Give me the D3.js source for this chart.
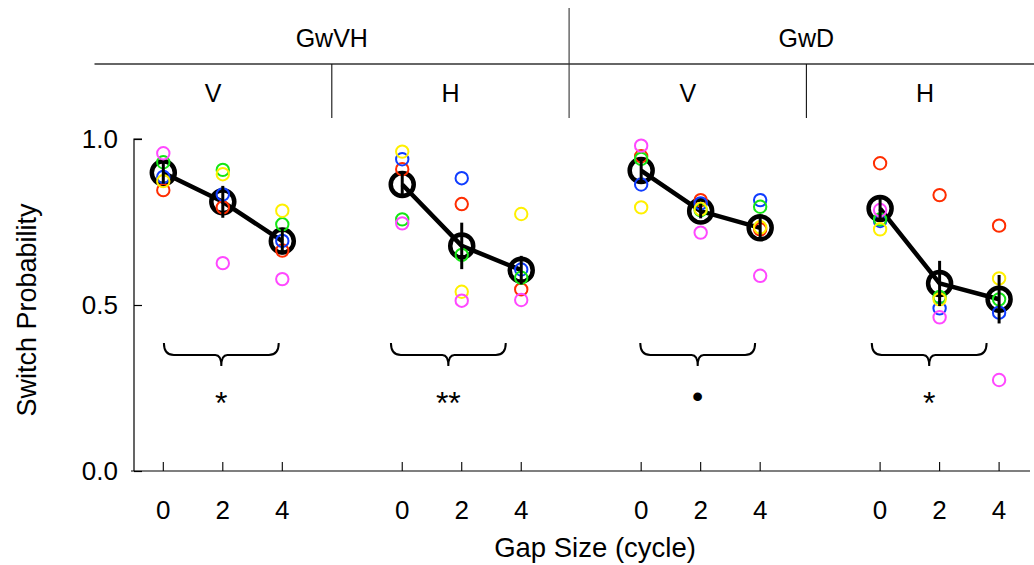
<!DOCTYPE html>
<html>
<head>
<meta charset="utf-8">
<script src="https://cdn.jsdelivr.net/npm/d3@7"></script>
<style>
  html, body { margin: 0; padding: 0; background: #fff; }
  svg { display: block; font-family: "Liberation Sans", Arial, Helvetica, sans-serif; }
</style>
</head>
<body>
<svg id="chart" width="1034" height="565"></svg>
<script>
// Conditions: stimulus group x orientation, one panel each
const groups = ["GwVH", "GwD"];
const panels = ["GwVH-V", "GwVH-H", "GwD-V", "GwD-H"];
const orientations = ["V", "H", "V", "H"];
const gaps = [0, 2, 4];
const yTicks = [0, 0.5, 1.0];

// Per-subject switch probabilities: [panel][gap]
const subjRed     = [[0.846, 0.794, 0.664], [0.909, 0.804, 0.547], [0.948, 0.816, 0.728], [0.927, 0.831, 0.739]];
const subjBlue    = [[0.886, 0.833, 0.693], [0.939, 0.882, 0.607], [0.863, 0.806, 0.816], [0.753, 0.490, 0.477]];
const subjGreen   = [[0.930, 0.907, 0.743], [0.758, 0.651, 0.582], [0.940, 0.786, 0.796], [0.758, 0.524, 0.517]];
const subjYellow  = [[0.873, 0.894, 0.784], [0.962, 0.540, 0.774], [0.794, 0.789, 0.734], [0.728, 0.517, 0.580]];
const subjMagenta = [[0.957, 0.626, 0.578], [0.746, 0.513, 0.515], [0.980, 0.718, 0.588], [0.786, 0.463, 0.274]];

// Error bar half-lengths of the group means: [panel][gap]
const meanErr = [[0.033, 0.048, 0.040], [0.040, 0.070, 0.043], [0.040, 0.022, 0.038], [0.033, 0.068, 0.073]];

// Significance of the gap effect per panel, and where its brace is centred (gap units)
const sigLabels = ["*", "**", "\u2022", "*"];
const braceCenters = [1.95, 1.55, 1.9, 1.65];

const subjects = [
  { name: "S1", color: "#ff2d00", values: subjRed },
  { name: "S2", color: "#0f3cff", values: subjBlue },
  { name: "S3", color: "#14e614", values: subjGreen },
  { name: "S4", color: "#fff000", values: subjYellow },
  { name: "S5", color: "#ff48ff", values: subjMagenta }
];

const svg = d3.select("#chart");
const FONT = 26;

// Scales
const y = d3.scaleLinear().domain([0, 1]).range([471, 139]);
const panelX = d3.scalePoint().domain(panels).range([163.3, 880.1]);
const gapX = d3.scaleLinear().domain([0, 4]).range([0, 119]);
const x = (p, g) => panelX(panels[p]) + gapX(g);

// Header columns
const headerCol = d3.scaleLinear().domain([0, 4]).range([94.5, 1043.7]);

const header = svg.append("g").attr("class", "header");
header.append("line")
  .attr("x1", headerCol(2)).attr("x2", headerCol(2))
  .attr("y1", 8).attr("y2", 118)
  .attr("stroke", "#444").attr("stroke-width", 1.2);
header.append("line")
  .attr("x1", headerCol(0)).attr("x2", 1034)
  .attr("y1", 64).attr("y2", 64)
  .attr("stroke", "#333").attr("stroke-width", 1.6);
[1, 3].forEach(i => {
  header.append("line")
    .attr("x1", headerCol(i)).attr("x2", headerCol(i))
    .attr("y1", 64).attr("y2", 118)
    .attr("stroke", "#111").attr("stroke-width", 1.1);
});
header.selectAll("text.group")
  .data(groups)
  .join("text")
  .attr("class", "group")
  .attr("x", (d, i) => headerCol(i * 2 + 1))
  .attr("y", 47)
  .attr("text-anchor", "middle")
  .attr("font-size", 25)
  .text(d => d);
header.selectAll("text.orient")
  .data(orientations)
  .join("text")
  .attr("class", "orient")
  .attr("x", (d, i) => headerCol(i + 0.5))
  .attr("y", 102)
  .attr("text-anchor", "middle")
  .attr("font-size", 25)
  .text(d => d);

// Y axis
const yAxis = d3.axisRight(y).tickValues(yTicks).tickSize(8).tickFormat(d3.format(".1f"));
const yg = svg.append("g").attr("transform", "translate(134,0)").call(yAxis);
yg.select(".domain").attr("d", `M8,${y(1)}H0V${y(0)}`).attr("stroke", "#000").attr("stroke-width", 1.2);
yg.selectAll(".tick line").attr("stroke", "#000").attr("stroke-width", 1.2);
yg.selectAll(".tick text")
  .attr("x", -16).attr("text-anchor", "end")
  .attr("font-size", FONT).attr("fill", "#000")
  .attr("font-family", "Liberation Sans, Arial, Helvetica, sans-serif");

svg.append("text")
  .attr("transform", `translate(36,${(y(0) + y(1)) / 2 + 5}) rotate(-90)`)
  .attr("text-anchor", "middle")
  .attr("font-size", 27)
  .text("Switch Probability");

// X axis: one baseline, ticks per panel
svg.append("line")
  .attr("x1", 131).attr("x2", 1030)
  .attr("y1", y(0)).attr("y2", y(0))
  .attr("stroke", "#000").attr("stroke-width", 1.2);

const xTicks = [];
panels.forEach((p, pi) => gaps.forEach(g => xTicks.push({ pi, g })));
svg.append("g").selectAll("line")
  .data(xTicks)
  .join("line")
  .attr("x1", d => x(d.pi, d.g)).attr("x2", d => x(d.pi, d.g))
  .attr("y1", y(0)).attr("y2", y(0) - 9)
  .attr("stroke", "#000").attr("stroke-width", 1.1);
svg.append("g").selectAll("text")
  .data(xTicks)
  .join("text")
  .attr("x", d => x(d.pi, d.g))
  .attr("y", 519)
  .attr("text-anchor", "middle")
  .attr("font-size", FONT)
  .text(d => d.g);

svg.append("text")
  .attr("x", 595).attr("y", 557)
  .attr("text-anchor", "middle")
  .attr("font-size", 27.5)
  .text("Gap Size (cycle)");

// Group means
const means = panels.map((p, pi) => gaps.map((g, gi) => ({
  pi, g, gi,
  v: d3.mean(subjects, s => s.values[pi][gi]),
  e: meanErr[pi][gi]
})));

const line = d3.line().x(d => x(d.pi, d.g)).y(d => y(d.v));
svg.append("g").selectAll("path")
  .data(means)
  .join("path")
  .attr("d", line)
  .attr("fill", "none")
  .attr("stroke", "#000")
  .attr("stroke-width", 4.5)
  .attr("stroke-linejoin", "round");

svg.append("g").selectAll("circle")
  .data(means.flat())
  .join("circle")
  .attr("cx", d => x(d.pi, d.g))
  .attr("cy", d => y(d.v))
  .attr("r", 11.5)
  .attr("fill", "none")
  .attr("stroke", "#000")
  .attr("stroke-width", 4.5);

// Individual subjects
subjects.forEach(s => {
  const pts = [];
  panels.forEach((p, pi) => gaps.forEach((g, gi) => pts.push({ pi, g, v: s.values[pi][gi] })));
  svg.append("g").selectAll("circle")
    .data(pts)
    .join("circle")
    .attr("cx", d => x(d.pi, d.g))
    .attr("cy", d => y(d.v))
    .attr("r", 6.2)
    .attr("fill", "none")
    .attr("stroke", s.color)
    .attr("stroke-width", 2);
});

// Error bars
svg.append("g").selectAll("line")
  .data(means.flat())
  .join("line")
  .attr("x1", d => x(d.pi, d.g)).attr("x2", d => x(d.pi, d.g))
  .attr("y1", d => y(d.v + d.e)).attr("y2", d => y(d.v - d.e))
  .attr("stroke", "#000")
  .attr("stroke-width", 3);

// Braces with significance markers
const braceHalf = gapX(1.93);
const brace = (cx) => {
  const y0 = 343, y1 = 355, y2 = 366, r = 10, k = 6;
  const l = cx - braceHalf, rr = cx + braceHalf;
  return `M${l},${y0}Q${l},${y1} ${l + r},${y1}L${cx - k},${y1}Q${cx},${y1} ${cx},${y2}` +
         `Q${cx},${y1} ${cx + k},${y1}L${rr - r},${y1}Q${rr},${y1} ${rr},${y0}`;
};
svg.append("g").selectAll("path")
  .data(braceCenters)
  .join("path")
  .attr("d", (c, i) => brace(x(i, c)))
  .attr("fill", "none")
  .attr("stroke", "#000")
  .attr("stroke-width", 2);
svg.append("g").selectAll("text")
  .data(sigLabels)
  .join("text")
  .attr("x", (d, i) => x(i, braceCenters[i]))
  .attr("y", d => d === "\u2022" ? 407 : 414)
  .attr("text-anchor", "middle")
  .attr("font-size", 32)
  .text(d => d);
</script>
</body>
</html>
